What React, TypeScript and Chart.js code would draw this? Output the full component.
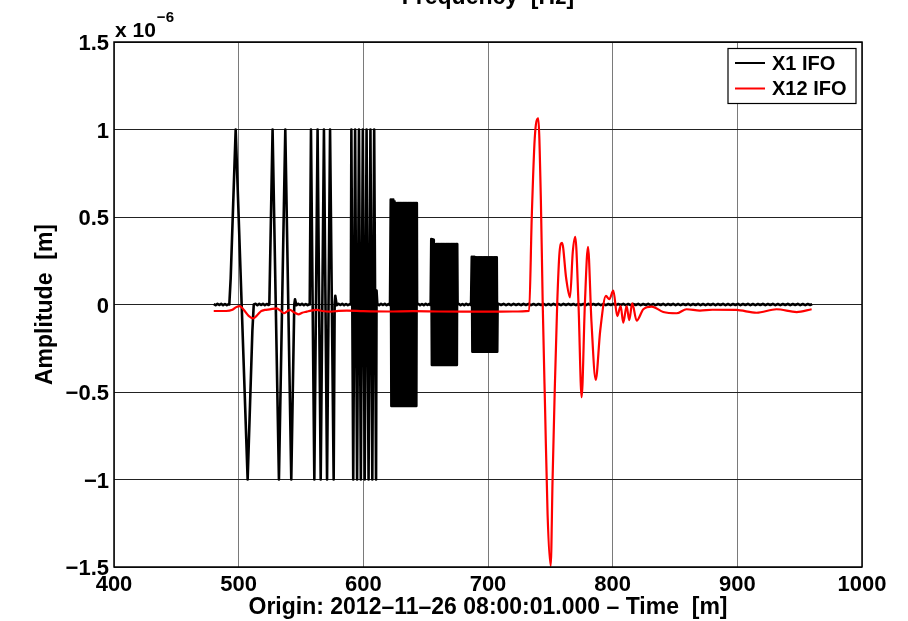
import React, { useEffect, useRef } from "react";
import { Chart, registerables } from "chart.js";

Chart.register(...registerables);

// Amplitudes are in units of 1e-6 m; time in minutes.
const xTicks = [400, 500, 600, 700, 800, 900, 1000];
const yTicks = [-1.5, -1, -0.5, 0, 0.5, 1, 1.5];

// ---- X1 IFO (black) ----
const x1Lead: [number, number][] = [
  [480, 0.003], [481.5, -0.004], [483, 0.004], [484.5, -0.003], [486, 0.004],
  [487.5, -0.004], [489, 0.003], [490.5, -0.004], [492, 0.002],
];
const x1Burst1: [number, number][] = [
  [492.5, 0], [493.6, 0.15], [497.6, 1.0], [502.4, 0], [507.2, -1.0], [511, -0.15], [512.1, 0],
];
const x1Gap1: [number, number][] = [
  [513.5, 0.004], [515, -0.004], [516.5, 0.004], [518, -0.003], [519.5, 0.004], [521, -0.004],
  [522.5, 0.003], [524, -0.003],
];
const x1Burst2: [number, number][] = [
  [524.6, 0], [527.2, 1.0], [532.3, -1.0], [537.4, 1.0], [542.2, -1.0], [544.6, 0], [545.2, 0.03],
];
const x1Gap2: [number, number][] = [
  [546.3, -0.004], [547.8, 0.004], [549.3, -0.003], [550.8, 0.004], [552.3, -0.004],
  [553.8, 0.003], [555.3, -0.004], [556.6, 0.002],
];
const x1Burst3: [number, number][] = [
  [557, 0], [558, 1.0], [560.7, -1.0], [563.3, 1.0], [565.8, -1.0], [568.4, 1.0], [570.9, -1.0],
  [573.3, 1.0], [576.2, -1.0], [577, 0], [577.5, 0.05],
];
const x1Gap3: [number, number][] = [
  [578.6, -0.004], [580.1, 0.004], [581.6, -0.003], [583.1, 0.004], [584.6, -0.004],
  [586.1, 0.003], [587.6, -0.004], [589.2, 0.002],
];
const x1Burst4: [number, number][] = [
  [590, 0], [590.4, 1.0], [591.9, -1.0], [593.4, 1.0], [595, -1.0], [596.5, 1.0], [598, -1.0],
  [599.6, 1.0], [601.1, -1.0], [602.6, 1.0], [604.2, -1.0], [605.7, 1.0], [607.2, -1.0],
  [608.7, 1.0], [610.2, -1.0], [610.6, 0.08],
];
const x1Gap4: [number, number][] = [
  [611.2, 0.004], [612.7, -0.004], [614.2, 0.004], [615.7, -0.003], [617.2, 0.004],
  [618.7, -0.004], [620.2, 0.003], [621.1, -0.002],
];
const x1Burst5: [number, number][] = [
  [621.4, 0], [622, 0.6], [622.5, -0.58], [623, 0.6], [623.5, -0.58], [624, 0.6], [624.5, -0.58],
  [625, 0.59], [625.5, -0.58], [626, 0.58], [626.5, -0.58], [627, 0.58], [627.5, -0.58],
  [628, 0.58], [628.5, -0.58], [629, 0.58], [629.5, -0.58], [630, 0.58], [630.5, -0.58],
  [631, 0.58], [631.5, -0.58], [632, 0.58], [632.5, -0.58], [633, 0.58], [633.5, -0.58],
  [634, 0.58], [634.5, -0.58], [635, 0.58], [635.5, -0.58], [636, 0.58], [636.5, -0.58],
  [637, 0.58], [637.5, -0.58], [638, 0.58], [638.5, -0.58], [639, 0.58], [639.5, -0.58],
  [640, 0.58], [640.5, -0.58], [641, 0.58], [641.5, -0.58], [642, 0.58], [642.5, -0.58],
  [642.9, 0.58], [643.1, 0],
];
const x1Gap5: [number, number][] = [
  [644, 0.004], [645.5, -0.004], [647, 0.003], [648.5, -0.004], [650, 0.004], [651.5, -0.003],
  [653, 0.004], [653.7, -0.002],
];
const x1Burst6: [number, number][] = [
  [654, 0], [654.5, 0.374], [655, -0.346], [655.5, 0.372], [656, -0.346], [656.5, 0.37],
  [657, -0.346], [657.5, 0.346], [658, -0.346], [658.5, 0.346], [659, -0.346], [659.5, 0.346],
  [660, -0.346], [660.5, 0.346], [661, -0.346], [661.5, 0.346], [662, -0.346], [662.5, 0.346],
  [663, -0.346], [663.5, 0.346], [664, -0.346], [664.5, 0.346], [665, -0.346], [665.5, 0.346],
  [666, -0.346], [666.5, 0.346], [667, -0.346], [667.5, 0.346], [668, -0.346], [668.5, 0.346],
  [669, -0.346], [669.5, 0.346], [670, -0.346], [670.5, 0.346], [671, -0.346], [671.5, 0.346],
  [672, -0.346], [672.5, 0.346], [673, -0.346], [673.5, 0.346], [674, -0.346], [674.5, 0.346],
  [675, -0.346], [675.3, 0.346], [675.6, 0],
];
const x1Gap6: [number, number][] = [
  [676.5, 0.004], [678, -0.004], [679.5, 0.003], [681, -0.004], [682.5, 0.004], [684, -0.003],
  [685.5, 0.004], [686.2, -0.002],
];
const x1Burst7: [number, number][] = [
  [686.4, 0], [687, 0.273], [687.5, -0.27], [688, 0.273], [688.5, -0.27], [689, 0.273],
  [689.5, -0.27], [690, 0.27], [690.5, -0.27], [691, 0.27], [691.5, -0.27], [692, 0.27],
  [692.5, -0.27], [693, 0.27], [693.5, -0.27], [694, 0.27], [694.5, -0.27], [695, 0.27],
  [695.5, -0.27], [696, 0.27], [696.5, -0.27], [697, 0.27], [697.5, -0.27], [698, 0.27],
  [698.5, -0.27], [699, 0.27], [699.5, -0.27], [700, 0.27], [700.5, -0.27], [701, 0.27],
  [701.5, -0.27], [702, 0.27], [702.5, -0.27], [703, 0.27], [703.5, -0.27], [704, 0.27],
  [704.5, -0.27], [705, 0.27], [705.5, -0.27], [706, 0.27], [706.5, -0.27], [707, 0.27],
  [707.4, -0.27], [707.7, 0],
];
const x1Tail: [number, number][] = [
  [708.5, 0.004], [710.5, -0.003], [712.5, 0.004], [714.5, -0.004], [716.5, 0.003], [718.5, -0.004],
  [720.5, 0.004], [722.5, -0.003], [724.5, 0.003], [726.5, -0.004], [728.5, 0.004], [730.5, -0.003],
  [732.5, 0.004], [734.5, -0.004], [736.5, 0.003], [738.5, -0.004], [740.5, 0.003], [742.5, -0.003],
  [744.5, 0.004], [746.5, -0.004], [748.5, 0.003], [750.5, -0.004], [752.5, 0.004], [754.5, -0.003],
  [756.5, 0.003], [758.5, -0.004], [760.5, 0.004], [762.5, -0.003], [764.5, 0.004], [766.5, -0.003],
  [768.5, 0.003], [770.5, -0.004], [772.5, 0.004], [774.5, -0.003], [776.5, 0.003], [778.5, -0.004],
  [780.5, 0.004], [782.5, -0.004], [784.5, 0.003], [786.5, -0.003], [788.5, 0.004], [790.5, -0.004],
  [792.5, 0.003], [794.5, -0.004], [796.5, 0.003], [798.5, -0.003], [800.5, 0.004], [802.5, -0.004],
  [804.5, 0.003], [806.5, -0.003], [808.5, 0.004], [810.5, -0.004], [812.5, 0.003], [814.5, -0.004],
  [816.5, 0.003], [818.5, -0.003], [820.5, 0.004], [822.5, -0.004], [824.5, 0.003], [826.5, -0.003],
  [828.5, 0.004], [830.5, -0.004], [832.5, 0.003], [834.5, -0.004], [836.5, 0.003], [838.5, -0.003],
  [840.5, 0.004], [842.5, -0.004], [844.5, 0.003], [846.5, -0.003], [848.5, 0.004], [850.5, -0.004],
  [852.5, 0.003], [854.5, -0.004], [856.5, 0.003], [858.5, -0.003], [860.5, 0.004], [862.5, -0.004],
  [864.5, 0.003], [866.5, -0.003], [868.5, 0.004], [870.5, -0.004], [872.5, 0.003], [874.5, -0.004],
  [876.5, 0.003], [878.5, -0.003], [880.5, 0.004], [882.5, -0.004], [884.5, 0.003], [886.5, -0.003],
  [888.5, 0.004], [890.5, -0.004], [892.5, 0.003], [894.5, -0.004], [896.5, 0.003], [898.5, -0.003],
  [900.5, 0.004], [902.5, -0.004], [904.5, 0.003], [906.5, -0.003], [908.5, 0.004], [910.5, -0.004],
  [912.5, 0.003], [914.5, -0.004], [916.5, 0.003], [918.5, -0.003], [920.5, 0.004], [922.5, -0.004],
  [924.5, 0.003], [926.5, -0.003], [928.5, 0.004], [930.5, -0.004], [932.5, 0.003], [934.5, -0.004],
  [936.5, 0.003], [938.5, -0.003], [940.5, 0.004], [942.5, -0.004], [944.5, 0.003], [946.5, -0.003],
  [948.5, 0.004], [950.5, -0.004], [952.5, 0.003], [954.5, -0.004], [956.5, 0.003], [958.5, -0.003],
  [960, 0.002],
];

// ---- X12 IFO (red) ----
const x12Lead: [number, number][] = [
  [480, -0.037], [490, -0.037], [495, -0.03], [498, -0.015], [501, -0.009], [504, -0.03],
  [508, -0.065], [511.7, -0.079], [515, -0.06], [518, -0.038], [521, -0.031], [525, -0.028],
  [530.5, -0.022], [533.5, -0.035], [536.4, -0.05], [539, -0.038], [541.2, -0.031],
  [544.5, -0.045], [547.9, -0.056], [551, -0.047], [554.6, -0.041], [558, -0.035],
  [562.6, -0.031], [567, -0.037], [573.3, -0.041], [580, -0.036], [586.7, -0.035],
  [600, -0.038], [620, -0.04], [640, -0.038], [660, -0.04], [680, -0.041], [700, -0.041],
  [720, -0.04], [733, -0.036],
];
const x12Ring: [number, number][] = [
  [735.1, 0.5], [737.5, 0.95], [740.3, 1.064], [742.4, 0.6], [743.9, 0], [745.8, -0.6],
  [747.8, -1.2], [750.3, -1.494], [751.8, -1.0], [753.5, -0.5], [755.5, 0], [757.4, 0.3],
  [759.4, 0.353], [762.7, 0.15], [765.8, 0.041], [768, 0.3], [770, 0.387], [772.6, 0],
  [775.1, -0.53], [777.7, 0], [780.2, 0.33], [783, -0.1], [786.4, -0.431], [790, -0.15],
  [794.6, 0.049], [797.3, 0.03], [800.5, 0.079], [803.7, -0.066], [806.4, -0.009],
  [808.5, -0.104], [811.2, -0.009], [813.3, -0.089], [815.7, 0.007], [819.2, -0.092],
  [824.6, -0.027],
];
const x12Tail: [number, number][] = [
  [831.3, -0.012], [840.6, -0.043], [851.3, -0.05], [859.3, -0.027], [870, -0.035],
  [880, -0.03], [899, -0.031], [915.4, -0.047], [931.4, -0.027], [947.6, -0.043], [959.6, -0.027],
];

const seriesNames = ["X1 IFO", "X12 IFO"];
const seriesColors = ["#000000", "#ff0000"];

const FONT = "'Liberation Sans', Arial, Helvetica, sans-serif";

const toPts = (segs: [number, number][][]) =>
  segs.flat().map(([x, y]) => ({ x, y }));

const fmt = (v: number) => (v < 0 ? "\u2212" + String(-v) : String(v));

export default function App() {
  const ref = useRef<HTMLCanvasElement | null>(null);

  useEffect(() => {
    if (!ref.current) return;
    const overlay = {
      id: "matlabOverlay",
      afterDraw(chart: any) {
        const { ctx, chartArea: a } = chart;
        ctx.save();
        // axes frame
        ctx.strokeStyle = "#000";
        ctx.lineWidth = 1.5;
        ctx.strokeRect(a.left, a.top, a.right - a.left, a.bottom - a.top);
        // exponent label
        ctx.fillStyle = "#000";
        ctx.textBaseline = "alphabetic";
        ctx.textAlign = "left";
        ctx.font = `bold 21px ${FONT}`;
        ctx.fillText("x 10", a.left + 1, 37);
        const w = ctx.measureText("x 10").width;
        ctx.font = `bold 15px ${FONT}`;
        ctx.fillText("\u22126", a.left + 1 + w + 1, 21.5);
        // legend
        const lx = 728, ly = 48.5, lw = 128, lh = 55;
        ctx.fillStyle = "#fff";
        ctx.fillRect(lx, ly, lw, lh);
        ctx.strokeStyle = "#000";
        ctx.lineWidth = 1.2;
        ctx.strokeRect(lx, ly, lw, lh);
        const rows = [63, 88.5];
        ctx.font = `bold 20px ${FONT}`;
        ctx.textBaseline = "middle";
        seriesNames.forEach((name, i) => {
          ctx.strokeStyle = seriesColors[i];
          ctx.lineWidth = 2;
          ctx.beginPath();
          ctx.moveTo(735, rows[i]);
          ctx.lineTo(765, rows[i]);
          ctx.stroke();
          ctx.fillStyle = "#000";
          ctx.fillText(name, 772, rows[i] + 1);
        });
        ctx.restore();
      },
    };

    const chart = new Chart(ref.current, {
      type: "line",
      data: {
        datasets: [
          {
            label: seriesNames[0],
            data: toPts([
              x1Lead, x1Burst1, x1Gap1, x1Burst2, x1Gap2, x1Burst3, x1Gap3, x1Burst4,
              x1Gap4, x1Burst5, x1Gap5, x1Burst6, x1Gap6, x1Burst7, x1Tail,
            ]),
            borderColor: seriesColors[0],
            borderWidth: 2.6,
            pointRadius: 0,
            tension: 0.000001,
            borderJoinStyle: "round",
            order: 1,
          },
          {
            label: seriesNames[1],
            data: toPts([x12Lead, x12Ring, x12Tail]),
            borderColor: seriesColors[1],
            borderWidth: 2.2,
            pointRadius: 0,
            cubicInterpolationMode: "monotone",
            borderJoinStyle: "round",
            order: 0,
          },
        ],
      },
      options: {
        animation: false,
        responsive: false,
        devicePixelRatio: 1,
        parsing: false,
        layout: { padding: { left: 0, right: 46, top: 0, bottom: 0 } },
        plugins: {
          legend: { display: false },
          tooltip: { enabled: false },
          decimation: { enabled: false },
          title: {
            display: true,
            fullSize: false,
            text: "Frequency  [Hz]",
            color: "#000",
            font: { family: FONT, size: 23, weight: "bold" },
            padding: { top: -15.8, bottom: 30.2 },
          },
        },
        scales: {
          x: {
            type: "linear",
            min: 400,
            max: 1000,
            afterBuildTicks: (s: any) => {
              s.ticks = xTicks.map((v) => ({ value: v }));
            },
            afterFit: (s: any) => {
              s.height = 54;
            },
            border: { display: false },
            grid: { color: "#7a7a7a", lineWidth: 1, drawTicks: false },
            ticks: {
              color: "#000",
              font: { family: FONT, size: 22, weight: "bold" },
              padding: 5,
              maxRotation: 0,
              autoSkip: false,
              callback: (v: any) => String(v),
            },
            title: {
              display: true,
              text: "Origin: 2012\u201311\u201326 08:00:01.000 \u2013 Time  [m]",
              color: "#000",
              font: { family: FONT, size: 23, weight: "bold" },
              padding: { top: 0, bottom: 0 },
            },
          },
          y: {
            type: "linear",
            min: -1.5,
            max: 1.5,
            afterBuildTicks: (s: any) => {
              s.ticks = yTicks.map((v) => ({ value: v }));
            },
            afterFit: (s: any) => {
              s.width = 114;
            },
            border: { display: false },
            grid: { color: "#222222", lineWidth: 1, drawTicks: false },
            ticks: {
              color: "#000",
              font: { family: FONT, size: 22, weight: "bold" },
              padding: 5,
              labelOffset: 2,
              autoSkip: false,
              callback: (v: any) => fmt(Number(v)),
            },
            title: {
              display: true,
              text: "Amplitude  [m]",
              color: "#000",
              font: { family: FONT, size: 23, weight: "bold" },
              padding: { top: 31.4, bottom: 0 },
            },
          },
        },
      },
      plugins: [overlay],
    } as any);
    return () => chart.destroy();
  }, []);

  return (
    <div style={{ position: "fixed", left: 0, top: 0, width: 908, height: 621, background: "#fff" }}>
      <canvas ref={ref} width={908} height={621} style={{ display: "block", width: 908, height: 621 }} />
    </div>
  );
}
